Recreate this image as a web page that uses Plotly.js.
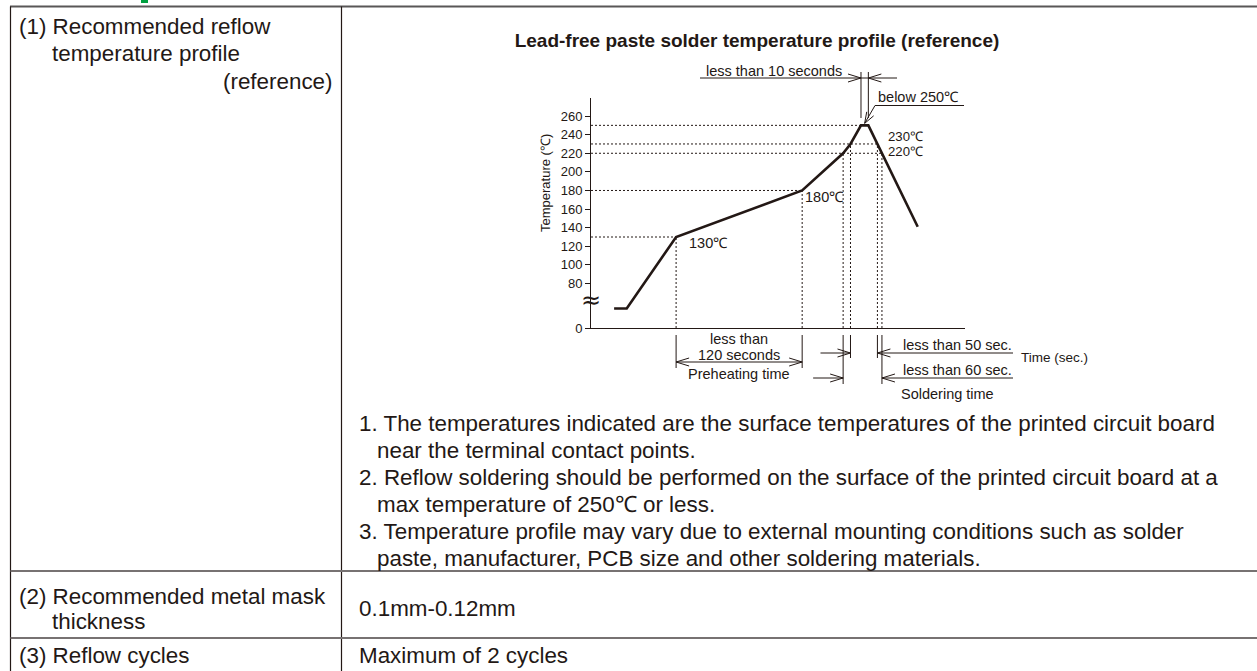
<!DOCTYPE html>
<html><head><meta charset="utf-8">
<script src="https://cdn.plot.ly/plotly-3.0.1.min.js"></script>
<style>html,body{margin:0;padding:0;background:#fff;overflow:hidden}#chart{width:1257px;height:671px}</style>
</head><body><div id="chart"></div>
<script>
// ---------- data ----------
const profileTime = [22, 34, 81, 201, 240, 247, 257, 264, 311];   // time (s, schematic)
const profileTemp = [35, 35, 130, 180, 220, 230, 250, 250, 141];  // temperature (°C)
const yTickTemps  = [0, 80, 100, 120, 140, 160, 180, 200, 220, 240, 260];
const yTickLabels = ['0', '80', '100', '120', '140', '160', '180', '200', '220', '240', '260'];
const heatLabels  = ['130℃', '180℃'];
const coolLabels  = ['230℃', '220℃'];
const rowLabels   = [['(1) Recommended reflow', 'temperature profile', '(reference)'],
                     ['(2) Recommended metal mask', 'thickness'],
                     ['(3) Reflow cycles']];
const rowValues   = ['0.1mm-0.12mm', 'Maximum of 2 cycles'];
const notes       = ['1. The temperatures indicated are the surface temperatures of the printed circuit board',
                     'near the terminal contact points.',
                     '2. Reflow soldering should be performed on the surface of the printed circuit board at a',
                     'max temperature of 250℃ or less.',
                     '3. Temperature profile may vary due to external mounting conditions such as solder',
                     'paste, manufacturer, PCB size and other soldering materials.'];

// ---------- geometry ----------
const W = 1257, H = 671;
const AX = {x0: 591, x1: 965, y0: 328, y1: 98};
const T_MAX = 356;
const BREAK_T = 80, BREAK_D = 47.8;          // broken temperature axis below 80 °C
const D_MAX = 247.2;
function D(t) { return t >= BREAK_T ? t - BREAK_T + BREAK_D : t * BREAK_D / BREAK_T; }
const fx = x => x / W, fy = y => 1 - y / H;
const xp = t => AX.x0 + t / T_MAX * (AX.x1 - AX.x0);
const yp = t => AX.y0 - D(t) / D_MAX * (AX.y0 - AX.y1);

const INK = '#231815';
const FONT = 'Liberation Sans, Arial, Helvetica, sans-serif';

function heatTime(temp) { return profileTime[profileTemp.indexOf(temp)]; }
function coolTime(temp) {
  const i = profileTemp.length - 2;
  const t0 = profileTime[i], t1 = profileTime[i + 1], v0 = profileTemp[i], v1 = profileTemp[i + 1];
  return t0 + (temp - v0) / (v1 - v0) * (t1 - t0);
}

const shapes = [];
const annotations = [];
function seg(x1, y1, x2, y2, w, color, dash) {
  shapes.push({type: 'line', xref: 'paper', yref: 'paper', x0: fx(x1), y0: fy(y1), x1: fx(x2), y1: fy(y2),
    line: {color: color || INK, width: w || 1, dash: dash || 'solid'}});
}
function head(tx, ty, dx, dy, L, hw) {
  L = L || 13; hw = hw || 4;
  const n = Math.hypot(dx, dy); dx /= n; dy /= n;
  const bx = tx - dx * L, by = ty - dy * L;
  const px = -dy * hw, py = dx * hw;
  const p = `M ${fx(bx + px)} ${fy(by + py)} L ${fx(tx)} ${fy(ty)} L ${fx(bx - px)} ${fy(by - py)}`;
  shapes.push({type: 'path', xref: 'paper', yref: 'paper', path: p, line: {color: INK, width: 1}});
}
function txt(text, x, y, anchor, size, extra) {
  annotations.push(Object.assign({text: text, xref: 'paper', yref: 'paper', x: fx(x), y: fy(y),
    xanchor: anchor || 'left', yanchor: 'middle', showarrow: false,
    font: {family: FONT, size: size || 14.5, color: INK}}, extra || {}));
}

// ---------- table ----------
const TBL = {left: 10.5, top: 6.5, col: 341.5, row1: 571, row2: 638};
seg(TBL.left - 0.5, TBL.top, W, TBL.top, 2, '#595757');
seg(TBL.left, TBL.top, TBL.left, H, 1.2);
seg(TBL.col, TBL.top, TBL.col, H, 1.2);
seg(TBL.left, TBL.row1, W, TBL.row1, 2, '#777272');
seg(TBL.left, TBL.row2, W, TBL.row2, 2, '#777272');
shapes.push({type: 'rect', xref: 'paper', yref: 'paper', x0: fx(141), x1: fx(148), y0: fy(0), y1: fy(3),
  line: {width: 0}, fillcolor: '#00a040'});

const TS = 22.4;
txt(rowLabels[0][0], 17, 26, 'left', TS);
txt(rowLabels[0][1], 50, 53.5, 'left', TS);
txt(rowLabels[0][2], 335, 81, 'right', TS);
txt(rowLabels[1][0], 17, 596, 'left', TS);
txt(rowLabels[1][1], 50, 621, 'left', TS);
txt(rowLabels[2][0], 17, 655, 'left', TS);
txt(rowValues[0], 357, 608, 'left', TS);
txt(rowValues[1], 357, 655, 'left', TS);
notes.forEach((line, i) => {
  const indent = /^\d\./.test(line) ? 357 : 375;
  txt(line, indent, 423 + i * 27, 'left', TS);
});

// ---------- chart decorations ----------
// dotted guides
const guides = [
  {temp: 130, t: heatTime(130)}, {temp: 180, t: heatTime(180)},
  {temp: 220, t: coolTime(220)}, {temp: 230, t: coolTime(230)}, {temp: 250, t: heatTime(250)}];
guides.forEach(g => shapes.push({type: 'line', xref: 'x', yref: 'y', x0: 0, x1: g.t, y0: D(g.temp), y1: D(g.temp),
  line: {color: INK, width: 1, dash: '2px,2px'}}));
[heatTime(130), heatTime(180), heatTime(220), heatTime(230), coolTime(230), coolTime(220)].forEach((t, i) => {
  const temp = [130, 180, 220, 230, 230, 220][i];
  shapes.push({type: 'line', xref: 'x', yref: 'y', x0: t, x1: t, y0: 0, y1: D(temp),
    line: {color: INK, width: 1, dash: '2px,2px'}});
});

// point labels
txt(heatLabels[0], xp(heatTime(130)) + 11, yp(130) + 6, 'left', 14.5);
txt(heatLabels[1], xp(heatTime(180)) + 1, yp(180) + 7, 'left', 14.5);
txt(coolLabels[0], 886, 136, 'left', 13.2);
txt(coolLabels[1], 886, 151, 'left', 13.2);

// "less than 10 seconds"
const pkA = xp(heatTime(250)), pkB = xp(profileTime[profileTemp.lastIndexOf(250)]);
seg(pkA, 72, pkA, 118); seg(pkB, 72, pkB, 118);
seg(700, 78, 897, 78);
head(pkA, 78, 1, 0); head(pkB, 78, -1, 0);
txt('less than 10 seconds', 844, 71, 'right', 14.5);

// "below 250℃"
txt('below 250℃', 876, 97, 'left', 14.5);
seg(875, 105.5, 964, 105.5);
seg(875, 105.5, (pkA + pkB) / 2, yp(250) - 2);
head((pkA + pkB) / 2, yp(250) - 2, (pkA + pkB) / 2 - 875, yp(250) - 2 - 105.5, 11, 4);

// preheating bracket
const phA = xp(heatTime(130)), phB = xp(heatTime(180));
seg(phA, 335, phA, 368); seg(phB, 335, phB, 368);
seg(phA, 362, phB, 362);
head(phA, 362, -1, 0); head(phB, 362, 1, 0);
txt('less than', (phA + phB) / 2, 339, 'center', 14.5);
txt('120 seconds', (phA + phB) / 2, 355, 'center', 14.5);
txt('Preheating time', (phA + phB) / 2, 374, 'center', 14.5);

// soldering time brackets
const s50A = xp(heatTime(230)), s50B = xp(coolTime(230));
const s60A = xp(heatTime(220)), s60B = xp(coolTime(220));
seg(s50A, 335, s50A, 358); seg(s50B, 335, s50B, 358);
seg(s60A, 335, s60A, 384); seg(s60B, 335, s60B, 384);
seg(s50A - 30, 353, s50A, 353); head(s50A, 353, 1, 0);
seg(s50B, 353, 1013, 353); head(s50B, 353, -1, 0);
seg(s60A - 30, 378, s60A, 378); head(s60A, 378, 1, 0);
seg(s60B, 378, 1013, 378); head(s60B, 378, -1, 0);
txt('less than 50 sec.', 901, 345, 'left', 14.5);
txt('less than 60 sec.', 901, 370, 'left', 14.5);
txt('Soldering time', 899, 394, 'left', 14.5);
txt('Time (sec.)', 1019, 357, 'left', 13.5);

// y title + axis break mark
txt('Temperature (℃)', 545, 183, 'center', 13, {textangle: -90});
annotations.push({text: '≈', xref: 'paper', yref: 'paper', x: fx(AX.x0), y: fy(300), xanchor: 'center', yanchor: 'middle',
  showarrow: false, font: {family: 'DejaVu Sans', size: 24, color: INK}});

// ---------- plot ----------
const trace = {
  x: profileTime, y: profileTemp.map(D), type: 'scatter', mode: 'lines',
  line: {color: INK, width: 2.6}, hoverinfo: 'skip', showlegend: false
};
const layout = {
  width: W, height: H, margin: {l: 0, r: 0, t: 0, b: 0}, paper_bgcolor: '#fff', plot_bgcolor: 'rgba(0,0,0,0)',
  title: {text: '<b>Lead-free paste solder temperature profile (reference)</b>', x: fx(757), y: fy(40),
    xref: 'paper', yref: 'paper', xanchor: 'center', yanchor: 'middle', font: {family: FONT, size: 19, color: INK}},
  xaxis: {domain: [fx(AX.x0), fx(AX.x1)], range: [0, T_MAX], showline: true, linecolor: INK, linewidth: 1,
    showgrid: false, zeroline: false, showticklabels: false, ticks: '', automargin: false, fixedrange: true},
  yaxis: {domain: [fy(AX.y0), fy(AX.y1)], range: [0, D_MAX], showline: true, linecolor: INK, linewidth: 1,
    showgrid: false, zeroline: false, ticks: 'outside', ticklen: 5, tickcolor: INK, tickwidth: 1,
    tickvals: yTickTemps.map(D), ticktext: yTickLabels, tickfont: {family: FONT, size: 13, color: INK},
    automargin: false, fixedrange: true},
  shapes: shapes, annotations: annotations, showlegend: false, hovermode: false
};
Plotly.newPlot('chart', [trace], layout, {staticPlot: true, displayModeBar: false});
</script>
</body></html>
